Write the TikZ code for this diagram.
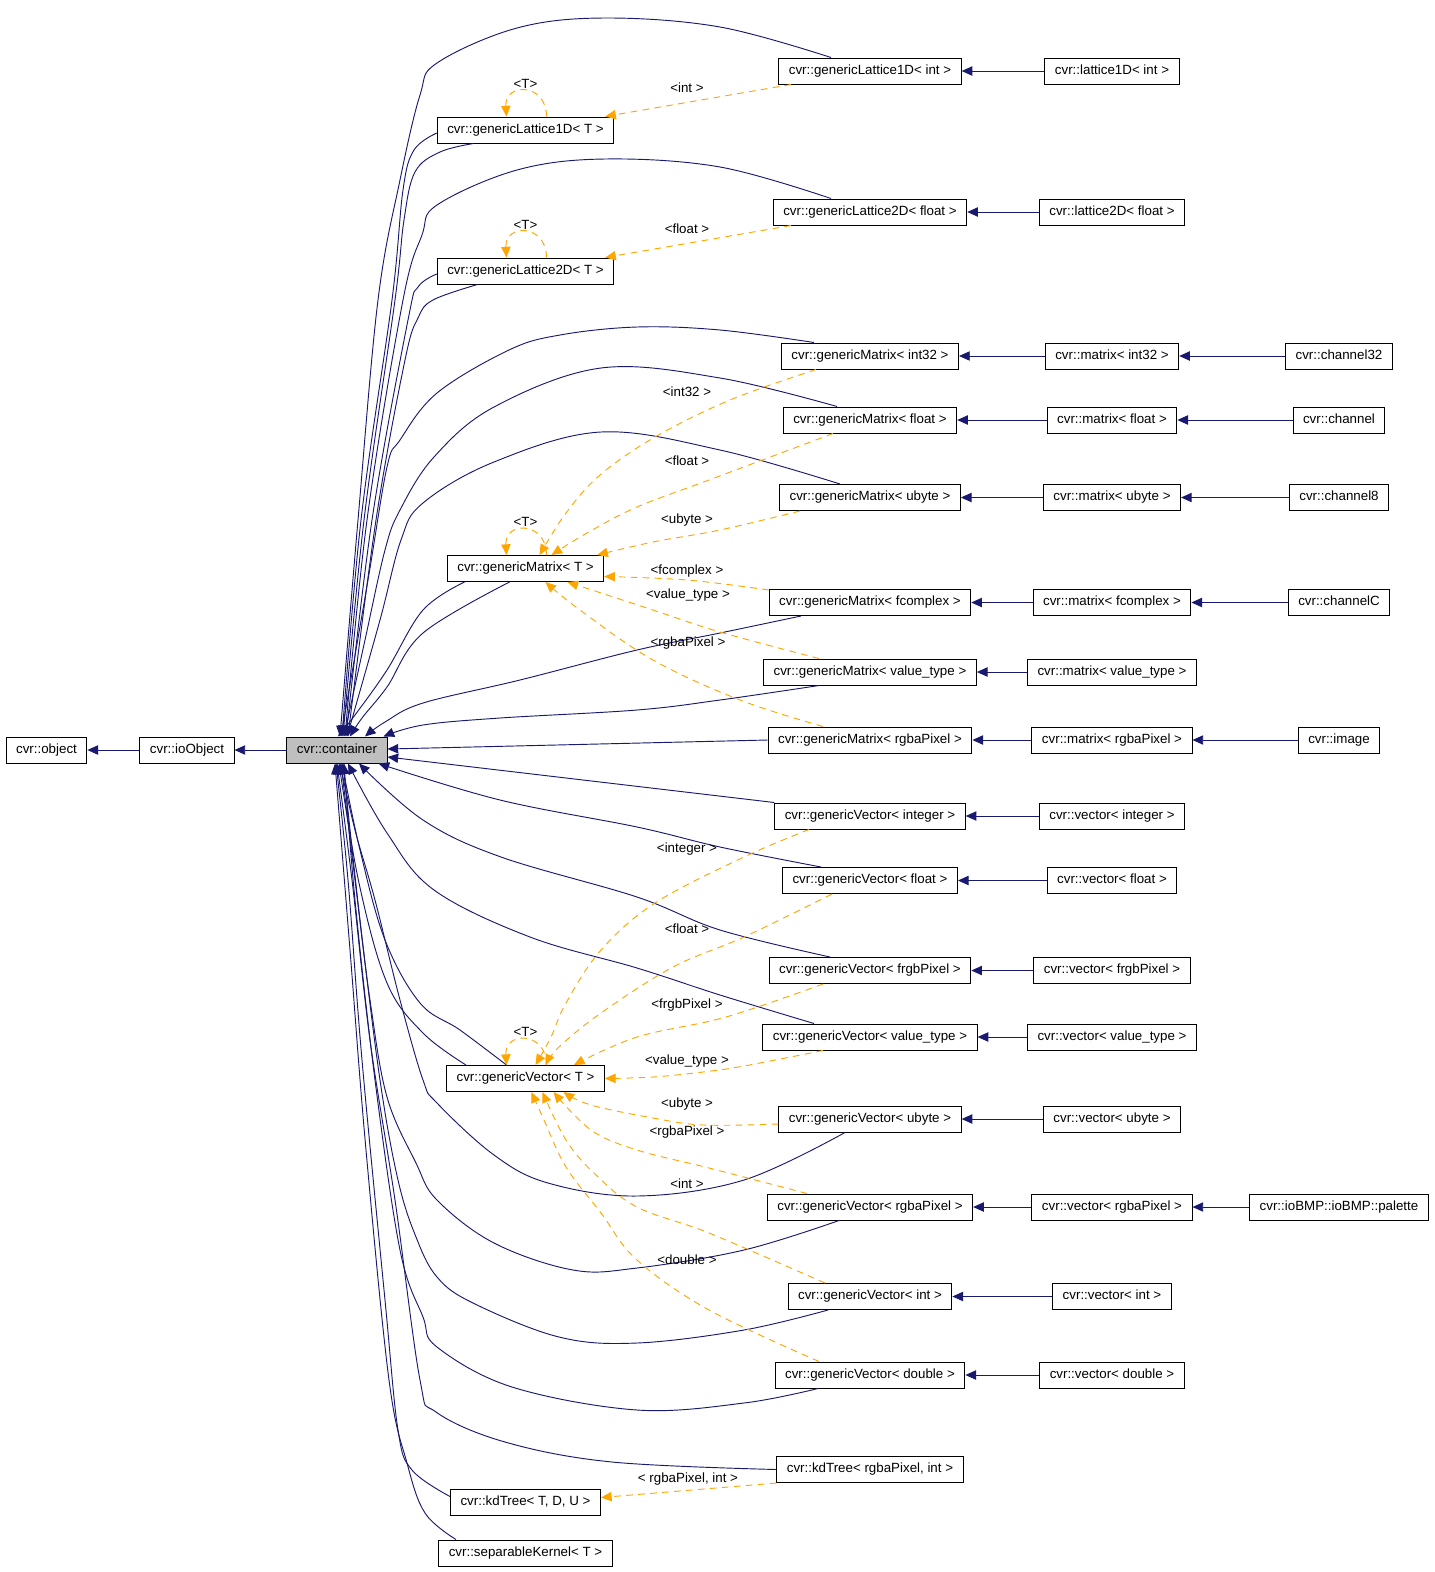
\documentclass[tikz,border=0pt]{standalone}
\usepackage{fontspec}
\setmainfont{Liberation Sans}
\usepackage{tikz}
\usetikzlibrary{arrows.meta, calc}
\definecolor{inhblue}{RGB}{25, 25, 112}
\definecolor{tplorange}{RGB}{255, 165, 0}
\definecolor{curgray}{RGB}{191, 191, 191}
\tikzset{
  cls/.style={rectangle, draw=black, fill=white, line width=0.75pt, inner xsep=7.5pt, inner ysep=0pt, minimum height=19.5pt, text height=7.4pt, text depth=2.2pt, font=\fontsize{10}{12}\selectfont},
  curcls/.style={cls, fill=curgray},
  inh/.style={draw=inhblue, line width=0.7pt, -{Triangle[length=8pt,width=7pt]}},
  tpl/.style={draw=tplorange, line width=0.7pt, dash pattern=on 5pt off 4pt, -{Triangle[length=8pt,width=7pt]}},
  lbl/.style={inner sep=0pt, font=\fontsize{10}{12}\selectfont}
}

\begin{document}
\begin{tikzpicture}[x=0.75pt, y=0.75pt]
        \useasboundingbox (0,0) rectangle (1435,-1572);

        % Clases base
        \node[cls] (obj) at (46.5,-750) {cvr::object};
        \node[cls] (ioObj) at (187,-750) {cvr::ioObject};
        \node[curcls] (cont) at (337,-750) {cvr::container};

        % Plantillas
        \node[cls] (gLat1T) at (525.5,-130) {cvr::genericLattice1D< T >};
        \node[cls] (gLat2T) at (525.5,-271) {cvr::genericLattice2D< T >};
        \node[cls] (gMatT) at (525.5,-568.5) {cvr::genericMatrix< T >};
        \node[cls] (gVecT) at (525.5,-1078.5) {cvr::genericVector< T >};
        \node[cls] (kdT) at (525.5,-1502.5) {cvr::kdTree< T, D, U >};
        \node[cls] (sepK) at (525.5,-1553) {cvr::separableKernel< T >};

        % Instancias
        \node[cls] (gLat1Int) at (870,-71) {cvr::genericLattice1D< int >};
        \node[cls] (gLat2Float) at (870,-212) {cvr::genericLattice2D< float >};
        \node[cls] (gMatInt32) at (870,-356) {cvr::genericMatrix< int32 >};
        \node[cls] (gMatFloat) at (870,-420) {cvr::genericMatrix< float >};
        \node[cls] (gMatUbyte) at (870,-497.5) {cvr::genericMatrix< ubyte >};
        \node[cls] (gMatFcomplex) at (870,-602.5) {cvr::genericMatrix< fcomplex >};
        \node[cls] (gMatValue) at (870,-672) {cvr::genericMatrix< value\_type >};
        \node[cls] (gMatRgba) at (870,-740) {cvr::genericMatrix< rgbaPixel >};
        \node[cls] (gVecInteger) at (870,-816) {cvr::genericVector< integer >};
        \node[cls] (gVecFloat) at (870,-880.5) {cvr::genericVector< float >};
        \node[cls] (gVecFrgb) at (870,-970.5) {cvr::genericVector< frgbPixel >};
        \node[cls] (gVecValue) at (870,-1037) {cvr::genericVector< value\_type >};
        \node[cls] (gVecUbyte) at (870,-1119) {cvr::genericVector< ubyte >};
        \node[cls] (gVecRgba) at (870,-1207) {cvr::genericVector< rgbaPixel >};
        \node[cls] (gVecInt) at (870,-1296.5) {cvr::genericVector< int >};
        \node[cls] (gVecDouble) at (870,-1375) {cvr::genericVector< double >};
        \node[cls] (kdRgba) at (870,-1469.5) {cvr::kdTree< rgbaPixel, int >};

        % Clases derivadas
        \node[cls] (lat1Int) at (1112,-71) {cvr::lattice1D< int >};
        \node[cls] (lat2Float) at (1112,-212) {cvr::lattice2D< float >};
        \node[cls] (matInt32) at (1112,-356) {cvr::matrix< int32 >};
        \node[cls] (matFloat) at (1112,-420) {cvr::matrix< float >};
        \node[cls] (matUbyte) at (1112,-497.5) {cvr::matrix< ubyte >};
        \node[cls] (matFcomplex) at (1112,-602.5) {cvr::matrix< fcomplex >};
        \node[cls] (matValue) at (1112,-672) {cvr::matrix< value\_type >};
        \node[cls] (matRgba) at (1112,-740) {cvr::matrix< rgbaPixel >};
        \node[cls] (vecInteger) at (1112,-816) {cvr::vector< integer >};
        \node[cls] (vecFloat) at (1112,-880.5) {cvr::vector< float >};
        \node[cls] (vecFrgb) at (1112,-970.5) {cvr::vector< frgbPixel >};
        \node[cls] (vecValue) at (1112,-1037) {cvr::vector< value\_type >};
        \node[cls] (vecUbyte) at (1112,-1119) {cvr::vector< ubyte >};
        \node[cls] (vecRgba) at (1112,-1207) {cvr::vector< rgbaPixel >};
        \node[cls] (vecInt) at (1112,-1296.5) {cvr::vector< int >};
        \node[cls] (vecDouble) at (1112,-1375) {cvr::vector< double >};
        \node[cls] (chan32) at (1339,-356) {cvr::channel32};
        \node[cls] (chan) at (1339,-420) {cvr::channel};
        \node[cls] (chan8) at (1339,-497.5) {cvr::channel8};
        \node[cls] (chanC) at (1339,-602.5) {cvr::channelC};
        \node[cls] (img) at (1339,-740) {cvr::image};
        \node[cls] (palette) at (1339,-1207) {cvr::ioBMP::ioBMP::palette};

        % Herencia simple
        \draw[inh] (ioObj.west) -- (obj.east);
        \draw[inh] (cont.west) -- (ioObj.east);
        \draw[inh] (lat1Int.west) -- (gLat1Int.east);
        \draw[inh] (lat2Float.west) -- (gLat2Float.east);
        \draw[inh] (matInt32.west) -- (gMatInt32.east);
        \draw[inh] (matFloat.west) -- (gMatFloat.east);
        \draw[inh] (matUbyte.west) -- (gMatUbyte.east);
        \draw[inh] (matFcomplex.west) -- (gMatFcomplex.east);
        \draw[inh] (matValue.west) -- (gMatValue.east);
        \draw[inh] (matRgba.west) -- (gMatRgba.east);
        \draw[inh] (vecInteger.west) -- (gVecInteger.east);
        \draw[inh] (vecFloat.west) -- (gVecFloat.east);
        \draw[inh] (vecFrgb.west) -- (gVecFrgb.east);
        \draw[inh] (vecValue.west) -- (gVecValue.east);
        \draw[inh] (vecUbyte.west) -- (gVecUbyte.east);
        \draw[inh] (vecRgba.west) -- (gVecRgba.east);
        \draw[inh] (vecInt.west) -- (gVecInt.east);
        \draw[inh] (vecDouble.west) -- (gVecDouble.east);
        \draw[inh] (chan32.west) -- (matInt32.east);
        \draw[inh] (chan.west) -- (matFloat.east);
        \draw[inh] (chan8.west) -- (matUbyte.east);
        \draw[inh] (chanC.west) -- (matFcomplex.east);
        \draw[inh] (img.west) -- (matRgba.east);
        \draw[inh] (palette.west) -- (vecRgba.east);

        % Herencia de cvr::container, por arriba
        \draw[inh] plot[smooth, tension=0.6] coordinates {($(gLat1Int.north)+(-39,0)$) (720,-27) (605,-18) (517,-28) (437,-63) (420,-95) (400,-180) (378,-300) (358,-520) ($(cont.north)+(3,0)$)};
        \draw[inh] plot[smooth, tension=0.6] coordinates {($(gLat1T.west)+(0,-3)$) (414,-150) (403,-190) (392,-300) (361,-520) ($(cont.north)+(5,0)$)};
        \draw[inh] plot[smooth, tension=0.6] coordinates {($(gLat1T.south)+(-52,0)$) (440,-152) (415,-172) (404,-220) (395,-300) (364,-520) ($(cont.north)+(6,0)$)};
        \draw[inh] plot[smooth, tension=0.6] coordinates {($(gLat2Float.north)+(-39,0)$) (720,-167) (605,-159) (517,-170) (437,-205) (422,-235) (403,-300) (367,-520) ($(cont.north)+(8,0)$)};
        \draw[inh] plot[smooth, tension=0.6] coordinates {($(gLat2T.west)+(0,-3)$) (418,-287) (408,-320) (372,-520) ($(cont.north)+(9,0)$)};
        \draw[inh] plot[smooth, tension=0.6] coordinates {($(gLat2T.south)+(-48,0)$) (433,-300) (418,-318) (405,-360) (376,-520) ($(cont.north)+(11,0)$)};
        \draw[inh] plot[smooth, tension=0.6] coordinates {($(gMatInt32.north)+(-56,0)$) (720,-330) (637,-327) (560,-335) (509,-350) (437,-393) (400,-440) (387,-467) (368,-580) ($(cont.north)+(4,0)$)};
        \draw[inh] plot[smooth, tension=0.6] coordinates {($(gMatFloat.north)+(-33,0)$) (720,-378) (601,-368) (494,-407) (434,-457) (400,-510) (385,-550) (365,-640) ($(cont.north)+(7,0)$)};
        \draw[inh] plot[smooth, tension=0.6] coordinates {($(gMatUbyte.north)+(-30,0)$) (720,-450) (601,-432) (494,-462) (423,-503) (401,-540) (380,-620) ($(cont.north)+(10,0)$)};
        \draw[inh] plot[smooth, tension=0.6] coordinates {($(gMatT.south)+(-61,0)$) (423,-610) (387,-670) (355,-715) ($(cont.north)+(1,0)$)};
        \draw[inh] plot[smooth, tension=0.6] coordinates {($(gMatT.south)+(-16,0)$) (423,-633) (387,-687) (362,-718) ($(cont.north)+(13,0)$)};
        \draw[inh] plot[smooth, tension=0.6] coordinates {($(gMatFcomplex.south)+(-69,0)$) (720,-633) (637,-650) (520,-680) (423,-703) (385,-722) ($(cont.north)+(28,0)$)};
        \draw[inh] plot[smooth, tension=0.6] coordinates {($(gMatValue.south)+(-51,0)$) (720,-700) (637,-710) (500,-718) (423,-725) ($(cont.north east)+(-4,0)$)};

        % por la derecha
        \draw[inh] (gMatRgba.west) -- ($(cont.east)+(0,1)$);
        \draw[inh] (gVecInteger.north west) -- ($(cont.east)+(0,-7)$);

        % por abajo
        \draw[inh] plot[smooth, tension=0.6] coordinates {($(gVecFloat.north)+(-49,0)$) (720,-847) (637,-827) (500,-800) ($(cont.south east)+(-9,0)$)};
        \draw[inh] plot[smooth, tension=0.6] coordinates {($(gVecFrgb.north)+(-40,0)$) (720,-930) (637,-897) (501,-857) (423,-820) ($(cont.south)+(22,0)$)};
        \draw[inh] plot[smooth, tension=0.6] coordinates {($(gVecValue.north)+(-56,0)$) (720,-995) (637,-968) (530,-937) (434,-890) (387,-833) ($(cont.south)+(11,0)$)};
        \draw[inh] plot[smooth, tension=0.6] coordinates {($(gVecT.north)+(-59.5,0)$) (423,-1033) (387,-983) (359,-883) ($(cont.south)+(2,0)$)};
        \draw[inh] plot[smooth, tension=0.6] coordinates {($(gVecT.north)+(-19,0)$) (460,-1030) (420,-1003) (385,-940) (360,-850) ($(cont.south)+(5,0)$)};
        \draw[inh] plot[smooth, tension=0.6] coordinates {($(gVecUbyte.south)+(-25,0)$) (744,-1180) (637,-1196) (548,-1183) (494,-1155) (437,-1103) (423,-1080) (400,-1000) (375,-900) (355,-830) ($(cont.south)+(3,0)$)};
        \draw[inh] plot[smooth, tension=0.6] coordinates {($(gVecRgba.south)+(-31,0)$) (744,-1250) (637,-1268) (573,-1270) (494,-1243) (437,-1200) (416,-1163) (387,-1097) (370,-1000) (355,-880) ($(cont.south)+(4,0)$)};
        \draw[inh] plot[smooth, tension=0.6] coordinates {($(gVecInt.south)+(-42,0)$) (744,-1330) (637,-1343) (559,-1337) (473,-1303) (437,-1277) (416,-1237) (398,-1180) (380,-1080) (360,-920) ($(cont.south)+(6,0)$)};
        \draw[inh] plot[smooth, tension=0.6] coordinates {($(gVecDouble.south)+(-52,0)$) (744,-1403) (637,-1410) (512,-1387) (437,-1347) (423,-1317) (400,-1250) (375,-1080) (355,-900) ($(cont.south)+(7,0)$)};
        \draw[inh] plot[smooth, tension=0.6] coordinates {(kdRgba.west) (612,-1462) (505,-1442) (436,-1412) (420,-1380) (395,-1200) (370,-1040) (352,-880) (cont.south)};
        \draw[inh] plot[smooth, tension=0.6] coordinates {($(kdT.west)+(0,6)$) (412,-1470) (398,-1430) (385,-1300) (362,-1060) (348,-880) ($(cont.south)+(-1,0)$)};
        \draw[inh] plot[smooth, tension=0.6] coordinates {($(sepK.north)+(-69.5,0)$) (425,-1513) (407,-1463) (389,-1380) (366,-1150) (350,-950) ($(cont.south)+(-2,0)$)};

        % Instanciacion de plantillas
        \draw[tpl] ($(gLat1T.north)+(21,0)$) .. controls +(0,34) and +(-2,34) .. ($(gLat1T.north)+(-19,0)$);
        \node[lbl] (tLat1) at ($(gLat1T.north)+(0,33)$) {<T>};
        \draw[tpl] ($(gLat1Int.south)+(-79,0)$) -- ($(gLat1T.north east)+(-9,0)$);
        \node[lbl] (lInt1) at (687,-88) {<int >};

        \draw[tpl] ($(gLat2T.north)+(21,0)$) .. controls +(0,34) and +(-2,34) .. ($(gLat2T.north)+(-19,0)$);
        \node[lbl] (tLat2) at ($(gLat2T.north)+(0,33)$) {<T>};
        \draw[tpl] ($(gLat2Float.south)+(-79,0)$) -- ($(gLat2T.north east)+(-9,0)$);
        \node[lbl] (lFloat1) at (687,-229) {<float >};

        \draw[tpl] ($(gMatT.north)+(21,0)$) .. controls +(0,34) and +(-2,34) .. ($(gMatT.north)+(-19,0)$);
        \node[lbl] (tMat) at ($(gMatT.north)+(0,33)$) {<T>};
        \draw[tpl] plot[smooth, tension=0.6] coordinates {($(gMatInt32.south)+(-54,0)$) (730,-400) (655,-437) (600,-475) (566,-513) ($(gMatT.north)+(14,0)$)};
        \node[lbl] (lInt32) at (687,-392) {<int32 >};
        \draw[tpl] plot[smooth, tension=0.6] coordinates {($(gMatFloat.south)+(-37,0)$) (709,-480) (637,-507) (587,-533) ($(gMatT.north)+(26,0)$)};
        \node[lbl] (lFloat2) at (687,-461) {<float >};
        \draw[tpl] plot[smooth, tension=0.6] coordinates {($(gMatUbyte.south)+(-70,0)$) (720,-530) (653,-542) ($(gMatT.north east)+(-7,0)$)};
        \node[lbl] (lUbyte1) at (687,-520) {<ubyte >};
        \draw[tpl] plot[smooth, tension=0.6] coordinates {($(gMatFcomplex.north west)+(0,-1)$) (687,-580) ($(gMatT.east)+(0,-8)$)};
        \node[lbl] (lFcomplex) at (687,-571) {<fcomplex >};
        \draw[tpl] plot[smooth, tension=0.6] coordinates {($(gMatValue.north)+(-51,0)$) (720,-632) (653,-610) ($(gMatT.south)+(42,0)$)};
        \node[lbl] (lValue1) at (688,-595) {<value\_type >};
        \draw[tpl] plot[smooth, tension=0.6] coordinates {($(gMatRgba.north)+(-47,0)$) (740,-700) (653,-660) (580,-610) ($(gMatT.south)+(20,0)$)};
        \node[lbl] (lRgba1) at (688,-643) {<rgbaPixel >};

        \draw[tpl] ($(gVecT.north)+(21,0)$) .. controls +(0,34) and +(-2,34) .. ($(gVecT.north)+(-19,0)$);
        \node[lbl] (tVec) at ($(gVecT.north)+(0,33)$) {<T>};
        \draw[tpl] plot[smooth, tension=0.6] coordinates {($(gVecInteger.south)+(-61,0)$) (744,-857) (655,-903) (601,-950) (566,-1003) (551,-1037) ($(gVecT.north)+(10,0)$)};
        \node[lbl] (lInteger) at (687,-849) {<integer >};
        \draw[tpl] plot[smooth, tension=0.6] coordinates {($(gVecFloat.south)+(-38,0)$) (744,-937) (673,-967) (601,-1013) (559,-1047) ($(gVecT.north)+(20,0)$)};
        \node[lbl] (lFloat3) at (687,-929) {<float >};
        \draw[tpl] plot[smooth, tension=0.6] coordinates {($(gVecFrgb.south)+(-47,0)$) (726,-1017) (637,-1037) ($(gVecT.north east)+(-31,0)$)};
        \node[lbl] (lFrgb) at (687,-1005) {<frgbPixel >};
        \draw[tpl] plot[smooth, tension=0.6] coordinates {($(gVecValue.south)+(-47,0)$) (744,-1066) (703,-1072) (653,-1077) (gVecT.east)};
        \node[lbl] (lValue2) at (687,-1061) {<value\_type >};
        \draw[tpl] plot[smooth, tension=0.6] coordinates {($(gVecUbyte.west)+(0,-5)$) (703,-1125) (653,-1118) (591,-1105) ($(gVecT.south)+(38,0)$)};
        \node[lbl] (lUbyte2) at (687,-1104) {<ubyte >};
        \draw[tpl] plot[smooth, tension=0.6] coordinates {($(gVecRgba.north)+(-63,0)$) (709,-1168) (637,-1150) (591,-1130) ($(gVecT.south)+(28,0)$)};
        \node[lbl] (lRgba2) at (687,-1132) {<rgbaPixel >};
        \draw[tpl] plot[smooth, tension=0.6] coordinates {($(gVecInt.north)+(-45,0)$) (709,-1233) (637,-1207) (594,-1173) (566,-1140) ($(gVecT.south)+(17,0)$)};
        \node[lbl] (lInt2) at (687,-1184) {<int >};
        \draw[tpl] plot[smooth, tension=0.6] coordinates {($(gVecDouble.north)+(-51,0)$) (709,-1310) (637,-1260) (601,-1213) (566,-1167) (544,-1120) ($(gVecT.south)+(6,0)$)};
        \node[lbl] (lDouble) at (687,-1260) {<double >};

        \draw[tpl] (kdRgba.south west) -- ($(kdT.east)+(0,5)$);
        \node[lbl] (lKd) at (688,-1479) {< rgbaPixel, int >};
    \end{tikzpicture}
\end{document}
